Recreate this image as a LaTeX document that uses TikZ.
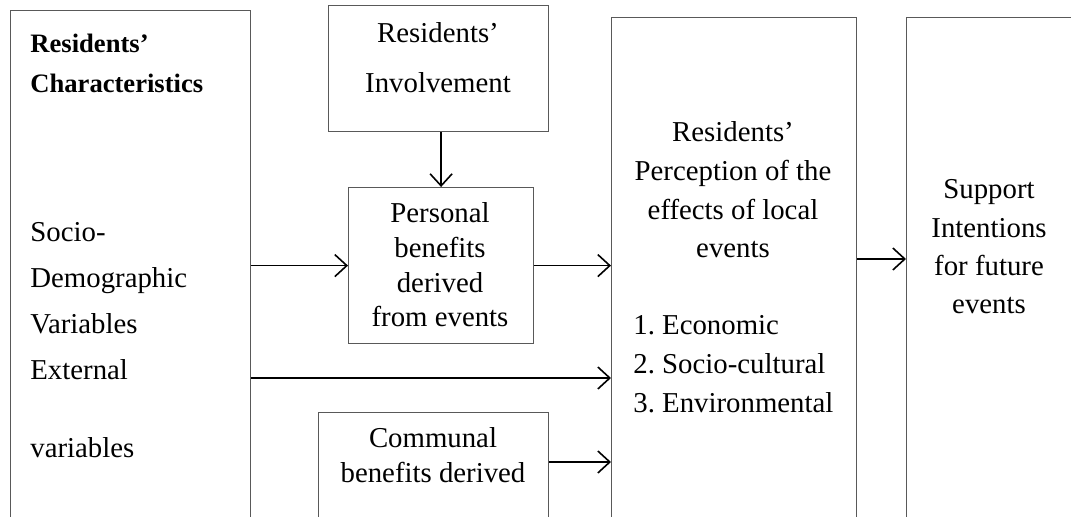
\documentclass[tikz,border=0pt]{standalone}
\usepackage{fontspec}
\setmainfont{Liberation Serif}
\frenchspacing
\usetikzlibrary{arrows.meta}
\tikzset{
  box/.style={draw=black!65, line width=0.6pt, inner sep=0pt, anchor=north west},
  linesep/.style={font=\fontsize{14.4}{#1}\selectfont, inner sep=0pt},
  flow/.style={line width=0.8pt, -{Straight Barb[length=6pt,width=11pt]}},
}
\begin{document}
\begin{tikzpicture}[x=0.5pt,y=-0.5pt]
\clip (0,0) rectangle (1071,517);
% boxes (open at the bottom, cut by the page)
\node[box, minimum width=120pt, minimum height=300pt] (res) at (10,10) {};
\node[box, minimum width=110pt, minimum height=63pt] (inv) at (328,5) {};
\node[box, minimum width=92.5pt, minimum height=78pt] (pers) at (348,187) {};
\node[box, minimum width=115pt, minimum height=100pt] (comm) at (318,412) {};
\node[box, minimum width=122.5pt, minimum height=300pt] (perc) at (611,17) {};
\node[box, minimum width=150pt, minimum height=300pt] (supp) at (906,17) {};
% texts
\node[font=\fontsize{13.3}{20}\selectfont\bfseries, inner sep=0pt, align=left, anchor=west] (restitle) at (30,63) {Residents’\\Characteristics};
\node[linesep=23pt, align=left, anchor=west] (resvars) at (30,301) {Socio-\\Demographic\\Variables\\External};
\node[linesep=23pt, anchor=west] (resext) at (30,448) {variables};
\node[linesep=25pt, align=center] (invtxt) at (438,58) {Residents’\\Involvement};
\node[linesep=17.3pt, align=center] (perstxt) at (440,265) {Personal\\benefits\\derived\\from events};
\node[linesep=17.5pt, align=center] (commtxt) at (433,455) {Communal\\benefits derived};
\node[linesep=19.3pt, align=center] (perctxt) at (733,190) {Residents’\\Perception of the\\effects of local\\events};
\node[linesep=19.5pt, align=left, anchor=west] (perclist) at (633,364) {1. Economic\\2. Socio-cultural\\3. Environmental};
\node[linesep=19.2pt, align=center] (supptxt) at (989,247) {Support\\Intentions\\for future\\events};
% arrows
\coordinate (extrow) at (0,378);
\coordinate (commrow) at (0,462);
\coordinate (supprow) at (0,259);
\draw[flow] (pers.north |- inv.south) -- (pers.north);
\draw[flow] (res.east |- pers.west) -- (pers.west);
\draw[flow] (pers.east) -- (pers.east -| perc.west);
\draw[flow] (res.east |- extrow) -- (perc.west |- extrow);
\draw[flow] (comm.east |- commrow) -- (perc.west |- commrow);
\draw[flow] (perc.east |- supprow) -- (supp.west |- supprow);
\end{tikzpicture}
\end{document}
